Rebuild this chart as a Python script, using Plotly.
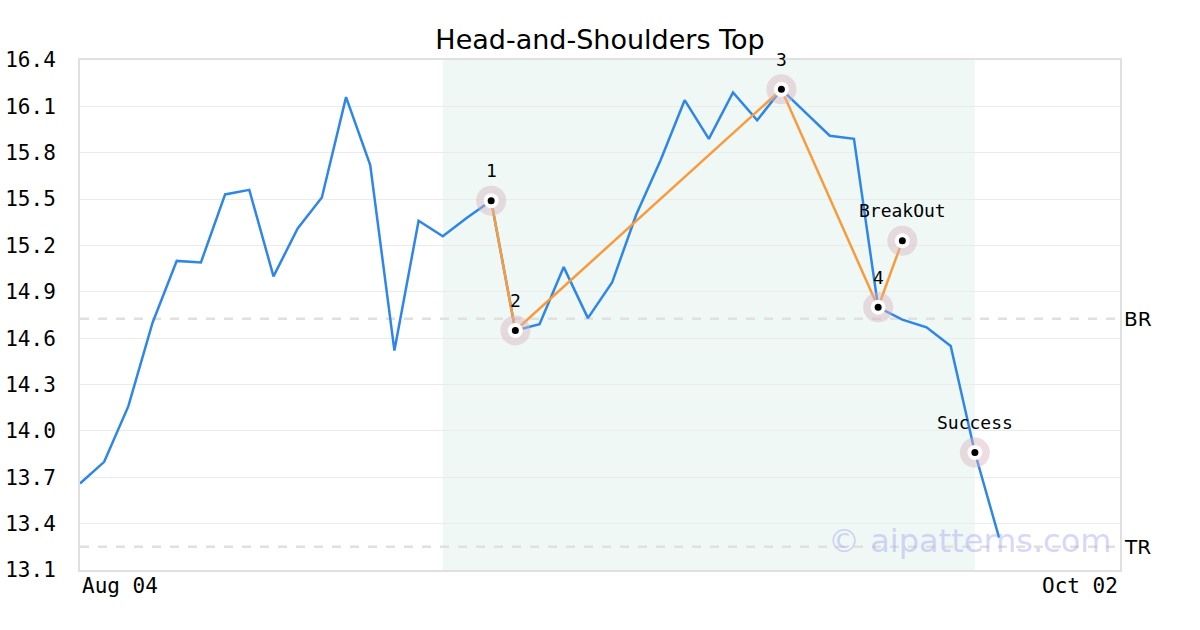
import plotly.graph_objects as go

# ---- data ----
prices = [13.66, 13.80, 14.16, 14.70, 15.10, 15.09, 15.53, 15.56, 15.00, 15.31,
          15.51, 16.16, 15.72, 14.52, 15.36, 15.26, 15.38, 15.49, 14.65, 14.69,
          15.06, 14.73, 14.96, 15.40, 15.75, 16.14, 15.89, 16.19, 16.01, 16.21,
          16.06, 15.91, 15.89, 14.80, 14.72, 14.67, 14.55, 13.86, 13.31]
pattern_idx = [17, 18, 29, 33, 34]
pattern_val = [15.49, 14.65, 16.21, 14.80, 15.23]
pattern_lbl = ["1", "2", "3", "4", "BreakOut"]
success_idx = 37
success_val = 13.86
shade_range = [15, 37]
br_level = 14.725
tr_level = 13.25
x_labels = ["Aug 04", "Oct 02"]
x_label_pos = [0, 43]
y_ticks = [13.1, 13.4, 13.7, 14.0, 14.3, 14.6, 14.9, 15.2, 15.5, 15.8, 16.1, 16.4]

MONO = "DejaVu Sans Mono"
SANS = "DejaVu Sans"
idx = list(range(len(prices)))

fig = go.Figure()

fig.add_shape(type="rect", xref="x", yref="paper", x0=shade_range[0], x1=shade_range[1],
              y0=0, y1=1, fillcolor="rgba(215,237,228,0.4)", line_width=0, layer="below")
for lvl in [br_level, tr_level]:
    fig.add_shape(type="line", xref="paper", yref="y", x0=0, x1=1, y0=lvl, y1=lvl,
                  line=dict(color="#e0e0e0", width=2.5, dash="dash"), layer="below")

fig.add_trace(go.Scatter(x=idx, y=prices, mode="lines",
                         line=dict(color="#2e86e8", width=2.5), hoverinfo="skip"))
fig.add_trace(go.Scatter(x=pattern_idx, y=pattern_val, mode="lines",
                         line=dict(color="#f89b3e", width=2.5), hoverinfo="skip"))

mk_x = pattern_idx + [success_idx]
mk_y = pattern_val + [success_val]
fig.add_trace(go.Scatter(x=mk_x, y=mk_y, mode="markers",
                         marker=dict(size=30, color="rgba(215,180,192,0.45)"), hoverinfo="skip"))
fig.add_trace(go.Scatter(x=mk_x, y=mk_y, mode="markers",
                         marker=dict(size=15, color="white"), hoverinfo="skip"))
fig.add_trace(go.Scatter(x=mk_x, y=mk_y, mode="markers",
                         marker=dict(size=7, color="black"), hoverinfo="skip"))

for xi, yv, t in zip(mk_x, mk_y, pattern_lbl + ["Success"]):
    fig.add_annotation(x=xi, y=yv, text=t, showarrow=False, yshift=30,
                       font=dict(family=MONO, size=18, color="black"))

fig.add_annotation(xref="paper", yref="y", x=1, y=br_level, text="BR", showarrow=False,
                   xanchor="left", xshift=2, font=dict(family=SANS, size=20, color="black"))
fig.add_annotation(xref="paper", yref="y", x=1, y=tr_level, text="TR", showarrow=False,
                   xanchor="left", xshift=2, font=dict(family=SANS, size=20, color="black"))

for lbl, pos, anc in zip(x_labels, x_label_pos, ["left", "right"]):
    fig.add_annotation(x=pos, yref="paper", y=0, text=lbl, showarrow=False,
                       xanchor=anc, yanchor="top", yshift=-2,
                       font=dict(family=MONO, size=21, color="black"))

fig.add_annotation(xref="paper", yref="paper", x=1, y=0.057, text="© aipatterns.com",
                   showarrow=False, xanchor="right", yanchor="middle", xshift=-7,
                   font=dict(family=SANS, size=32, color="rgba(165,165,245,0.45)"))

fig.update_layout(
    width=1200, height=630,
    margin=dict(l=80, r=80, t=60, b=60, autoexpand=False),
    paper_bgcolor="white", plot_bgcolor="white",
    showlegend=False,
    title=dict(text="Head-and-Shoulders Top", x=0.5, xanchor="center", y=0.937, yanchor="middle",
               font=dict(family=SANS, size=27, color="black")),
    xaxis=dict(range=[0, 43], showgrid=False, zeroline=False, showticklabels=False,
               ticks="", showline=True, linecolor="#e0e0e0", linewidth=2, mirror=True,
               automargin=False),
    yaxis=dict(range=[13.1, 16.4], tickvals=y_ticks, ticktext=[f"{v:.1f}" for v in y_ticks],
               showgrid=True, gridcolor="#ebebeb", gridwidth=1, zeroline=False,
               ticks="", showline=True, linecolor="#e0e0e0", linewidth=2, mirror=True,
               ticklabelstandoff=18, automargin=False,
               tickfont=dict(family=MONO, size=21, color="black")),
)

fig.write_html("out.html", config={"displayModeBar": False},
               post_script="document.body.style.margin='0';")
